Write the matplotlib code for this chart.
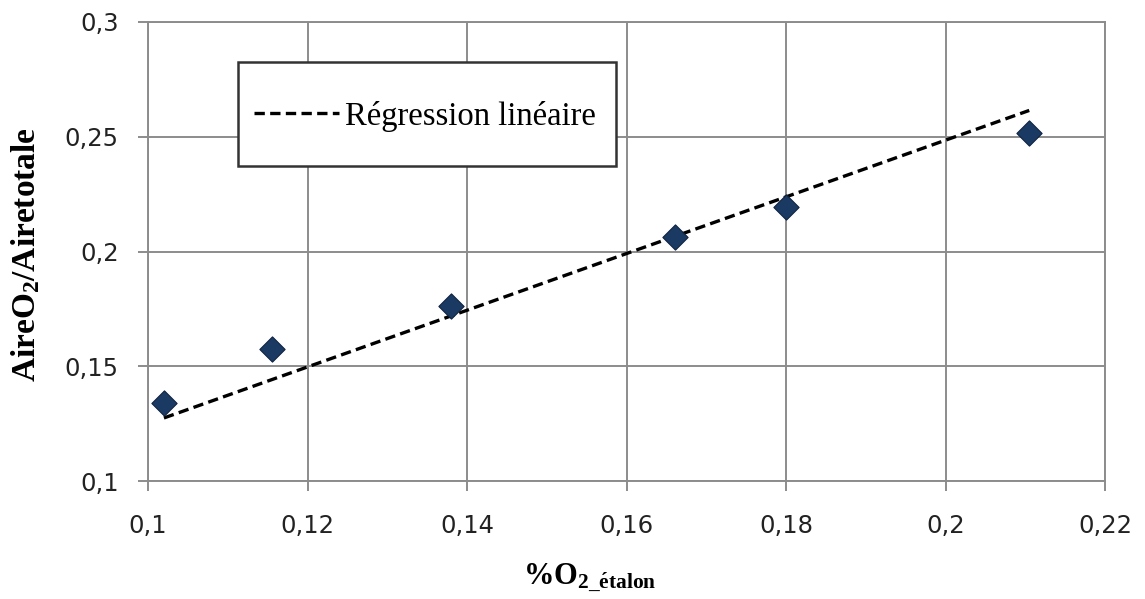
import matplotlib
matplotlib.use("Agg")
import matplotlib.pyplot as plt
from matplotlib.ticker import FuncFormatter
from matplotlib.patches import Rectangle

# Data
x_etalon = [0.102, 0.1155, 0.138, 0.1661, 0.180, 0.2105]
y_ratio = [0.134, 0.1575, 0.1763, 0.2064, 0.2195, 0.2515]
reg_slope = 1.235
reg_intercept = 0.0015
reg_x = [0.102, 0.2105]

xticks = [0.1, 0.12, 0.14, 0.16, 0.18, 0.2, 0.22]
yticks = [0.1, 0.15, 0.2, 0.25, 0.3]

plt.rcParams['mathtext.default'] = 'regular'

W, H = 1145, 599
fig = plt.figure(figsize=(W/100, H/100), dpi=100)
ax = fig.add_axes([148/W, 1-481/H, 957/W, 459/H])

grid_c = '#8c8c8c'
ax.set_xlim(0.1, 0.22)
ax.set_ylim(0.1, 0.3)
ax.set_xticks(xticks)
ax.set_yticks(yticks)
ax.grid(True, color=grid_c, linewidth=1.4)
ax.set_axisbelow(True)
for s in ax.spines.values():
    s.set_color(grid_c)
    s.set_linewidth(1.4)

fmt = FuncFormatter(lambda v, p: ('%g' % round(v, 4)).replace('.', ','))
ax.xaxis.set_major_formatter(fmt)
ax.yaxis.set_major_formatter(fmt)
ax.tick_params(axis='both', direction='out', length=7, width=1.4, color=grid_c,
               labelsize=17.5, labelcolor='#222222')
ax.tick_params(axis='x', pad=17)
ax.tick_params(axis='y', pad=14)
for lab in ax.get_xticklabels() + ax.get_yticklabels():
    lab.set_fontfamily('DejaVu Sans')

reg_y = [reg_slope * v + reg_intercept for v in reg_x]
ax.plot(reg_x, reg_y, color='black', linewidth=2.4, linestyle=(0, (3.1, 1.6)),
        label='Régression linéaire', zorder=3)
ax.scatter(x_etalon, y_ratio, marker='D', s=165, color='#1a3a63',
           edgecolor='#0f2440', linewidth=0.8, zorder=4)

# legend box drawn explicitly to match its size
box = Rectangle(((238-148)/957, (481-166)/459), (616-238)/957, 104/459,
                transform=ax.transAxes, facecolor='white', edgecolor='#333333',
                linewidth=1.8, zorder=5)
ax.add_patch(box)
leg = ax.legend(loc='center left', bbox_to_anchor=((254-148)/957, (481-116)/459),
                prop={'family': 'Liberation Serif', 'size': 23.5},
                frameon=False, handlelength=2.6, handletextpad=0.2,
                borderpad=0, borderaxespad=0)
leg.set_zorder(6)

ax.set_xlabel(r'%$O_{2\_\acute{e}talon}$', fontfamily='Liberation Serif',
              fontweight='bold', fontsize=22)
ax.xaxis.set_label_coords((590-148)/957, -(578-481)/459)
ax.xaxis.label.set_va('center')
ax.set_ylabel(r'Aire$O_2$/Airetotale', fontfamily='Liberation Serif',
              fontweight='bold', fontsize=24)
ax.yaxis.set_label_coords(-(148-26)/957, (481-255)/459)
ax.yaxis.label.set_va('center')

fig.savefig('out.png', dpi=100)
